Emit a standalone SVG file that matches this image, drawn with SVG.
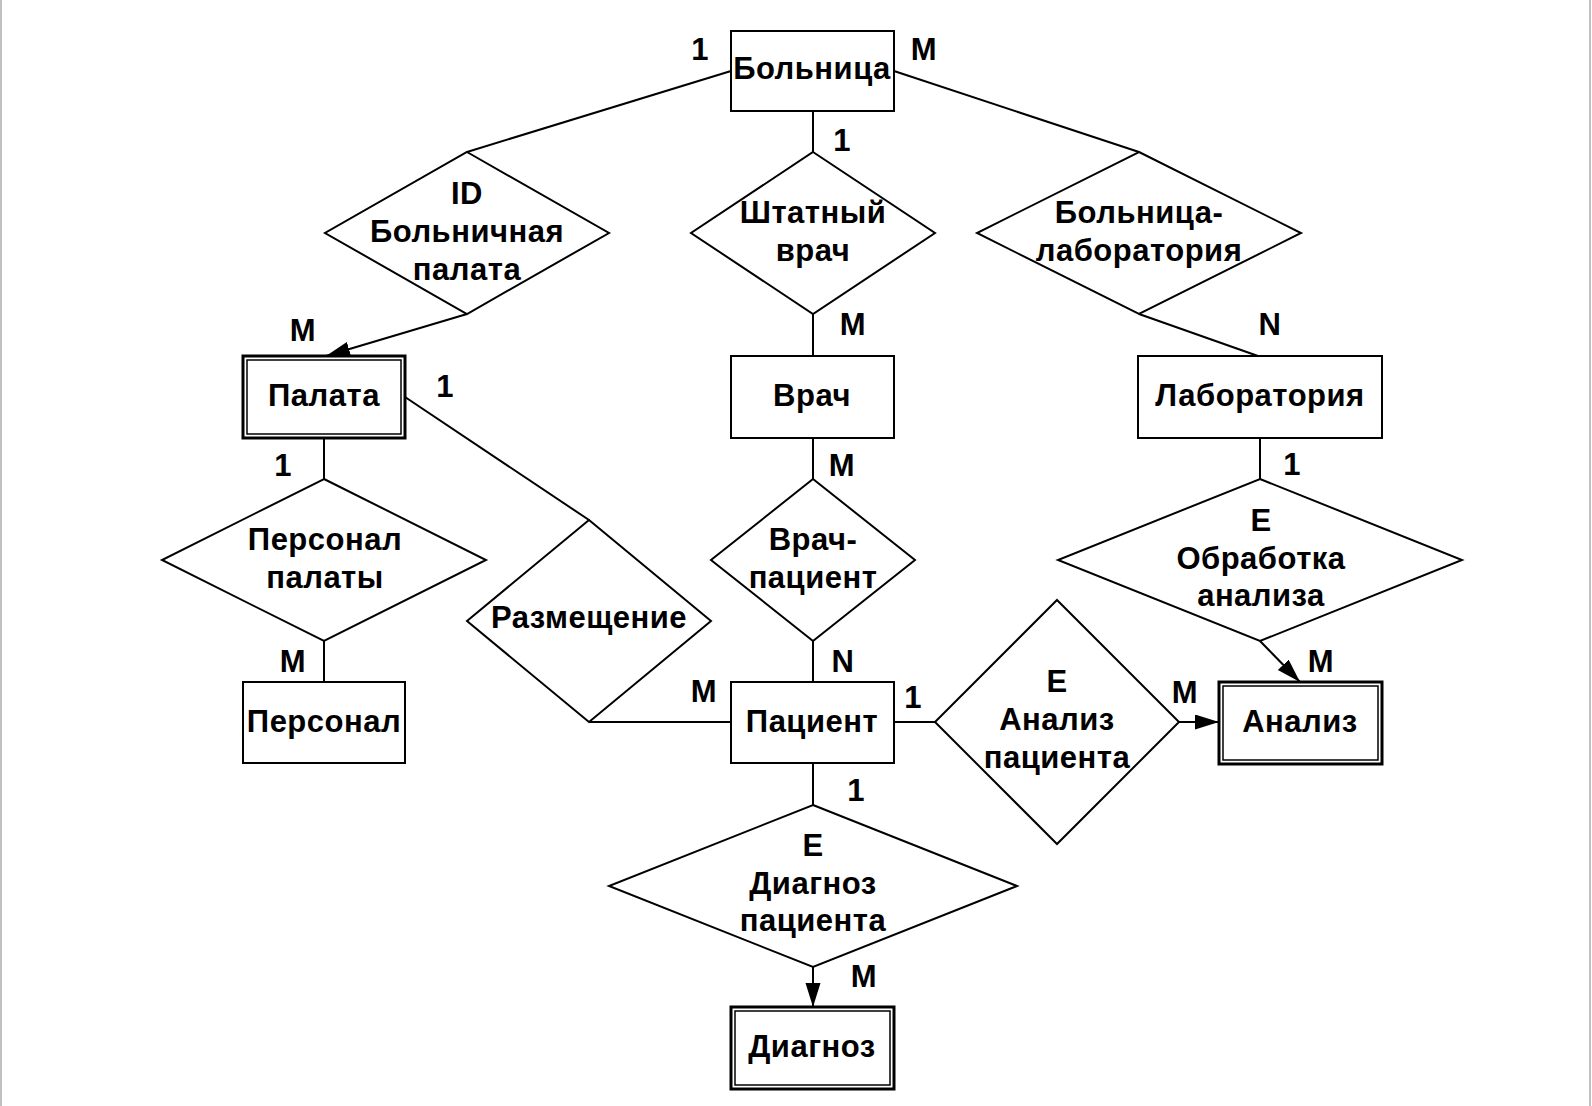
<svg xmlns="http://www.w3.org/2000/svg" width="1592" height="1106" viewBox="0 0 1592 1106">
<style>
  .ent { fill: #ffffff; stroke: #000000; stroke-width: 2; }
  .weak-o { fill: #ffffff; stroke: #000000; stroke-width: 3; }
  .weak-i { fill: none; stroke: #000000; stroke-width: 1.5; }
  .rel { fill: #ffffff; stroke: #000000; stroke-width: 2; }
  .conn line { stroke: #000000; stroke-width: 2; }
  text { font-family: "Liberation Sans", Arial, sans-serif; font-weight: bold; font-size: 31px; letter-spacing: 0.5px; fill: #000000; text-anchor: middle; }
</style>
<defs>
  <marker id="arrow" markerUnits="userSpaceOnUse" markerWidth="26" markerHeight="16" refX="24" refY="7.5" orient="auto">
    <path d="M0,0 L24,7.5 L0,15 z" fill="#000000"/>
  </marker>
</defs>
<rect x="0" y="0" width="1592" height="1106" fill="#ffffff"/>
<line x1="1" y1="0" x2="1" y2="1106" stroke="#c0c0c0" stroke-width="2"/>
<line x1="1590" y1="0" x2="1590" y2="1106" stroke="#c0c0c0" stroke-width="2"/>

<g id="connectors" class="conn">
  <line x1="731" y1="71" x2="467" y2="152"/>
  <line x1="894" y1="71" x2="1139" y2="152"/>
  <line x1="813" y1="111" x2="813" y2="152"/>
  <line x1="813" y1="314" x2="813" y2="356"/>
  <line x1="1139" y1="314" x2="1258" y2="356"/>
  <line x1="467" y1="314" x2="326" y2="356" marker-end="url(#arrow)"/>
  <line x1="405" y1="397" x2="589" y2="520"/>
  <line x1="324" y1="438" x2="324" y2="479"/>
  <line x1="324" y1="641" x2="324" y2="682"/>
  <line x1="813" y1="438" x2="813" y2="479"/>
  <line x1="813" y1="641" x2="813" y2="682"/>
  <line x1="1260" y1="438" x2="1260" y2="479"/>
  <line x1="589" y1="722" x2="731" y2="722"/>
  <line x1="894" y1="722" x2="935" y2="722"/>
  <line x1="1179" y1="722" x2="1219" y2="722" marker-end="url(#arrow)"/>
  <line x1="1260" y1="641" x2="1300" y2="682" marker-end="url(#arrow)"/>
  <line x1="813" y1="763" x2="813" y2="805"/>
  <line x1="813" y1="967" x2="813" y2="1007" marker-end="url(#arrow)"/>
</g>

<g id="bolnitsa">
  <rect class="ent" x="731" y="31" width="163" height="80"/>
  <text x="812" y="79">Больница</text>
</g>
<g id="palata">
  <rect class="weak-o" x="243" y="356" width="162" height="82"/>
  <rect class="weak-i" x="247" y="360" width="154" height="74"/>
  <text x="324" y="406">Палата</text>
</g>
<g id="vrach">
  <rect class="ent" x="731" y="356" width="163" height="82"/>
  <text x="812" y="406">Врач</text>
</g>
<g id="laboratoriya">
  <rect class="ent" x="1138" y="356" width="244" height="82"/>
  <text x="1260" y="406">Лаборатория</text>
</g>
<g id="personal">
  <rect class="ent" x="243" y="682" width="162" height="81"/>
  <text x="324" y="732">Персонал</text>
</g>
<g id="patsient">
  <rect class="ent" x="731" y="682" width="163" height="81"/>
  <text x="812" y="732">Пациент</text>
</g>
<g id="analiz">
  <rect class="weak-o" x="1219" y="682" width="163" height="82"/>
  <rect class="weak-i" x="1223" y="686" width="155" height="74"/>
  <text x="1300" y="732">Анализ</text>
</g>
<g id="diagnoz">
  <rect class="weak-o" x="731" y="1007" width="163" height="82"/>
  <rect class="weak-i" x="735" y="1011" width="155" height="74"/>
  <text x="812" y="1057">Диагноз</text>
</g>

<g id="rel-bolnichnaya-palata">
  <polygon class="rel" points="467,152 609,233 467,314 325,233"/>
  <text x="467" y="204">ID</text>
  <text x="467" y="242">Больничная</text>
  <text x="467" y="280">палата</text>
</g>
<g id="rel-shtatny-vrach">
  <polygon class="rel" points="813,152 935,233 813,314 691,233"/>
  <text x="813" y="223">Штатный</text>
  <text x="813" y="261">врач</text>
</g>
<g id="rel-bolnitsa-laboratoriya">
  <polygon class="rel" points="1139,152 1301,233 1139,314 977,233"/>
  <text x="1139" y="223">Больница-</text>
  <text x="1139" y="261">лаборатория</text>
</g>
<g id="rel-personal-palaty">
  <polygon class="rel" points="324,479 486,560 324,641 162,560"/>
  <text x="325" y="550">Персонал</text>
  <text x="325" y="588">палаты</text>
</g>
<g id="rel-razmeshchenie">
  <polygon class="rel" points="589,520 711,621 589,722 467,621"/>
  <text x="589" y="628">Размещение</text>
</g>
<g id="rel-vrach-patsient">
  <polygon class="rel" points="813,479 915,560 813,641 711,560"/>
  <text x="813" y="550">Врач-</text>
  <text x="813" y="588">пациент</text>
</g>
<g id="rel-obrabotka-analiza">
  <polygon class="rel" points="1260,479 1462,560 1260,641 1058,560"/>
  <text x="1261" y="531">E</text>
  <text x="1261" y="569">Обработка</text>
  <text x="1261" y="606">анализа</text>
</g>
<g id="rel-analiz-patsienta">
  <polygon class="rel" points="1057,600 1179,722 1057,844 935,722"/>
  <text x="1057" y="692">E</text>
  <text x="1057" y="730">Анализ</text>
  <text x="1057" y="768">пациента</text>
</g>
<g id="rel-diagnoz-patsienta">
  <polygon class="rel" points="813,805 1017,886 813,967 609,886"/>
  <text x="813" y="856">E</text>
  <text x="813" y="894">Диагноз</text>
  <text x="813" y="931">пациента</text>
</g>

<g id="cardinalities">
  <text x="700" y="60">1</text>
  <text x="924" y="60">M</text>
  <text x="842" y="151">1</text>
  <text x="303" y="341">M</text>
  <text x="445" y="397">1</text>
  <text x="853" y="335">M</text>
  <text x="1270" y="335">N</text>
  <text x="283" y="476">1</text>
  <text x="842" y="476">M</text>
  <text x="1292" y="475">1</text>
  <text x="293" y="672">M</text>
  <text x="843" y="672">N</text>
  <text x="704" y="702">M</text>
  <text x="913" y="708">1</text>
  <text x="1185" y="703">M</text>
  <text x="1321" y="672">M</text>
  <text x="856" y="801">1</text>
  <text x="864" y="987">M</text>
</g>
</svg>
